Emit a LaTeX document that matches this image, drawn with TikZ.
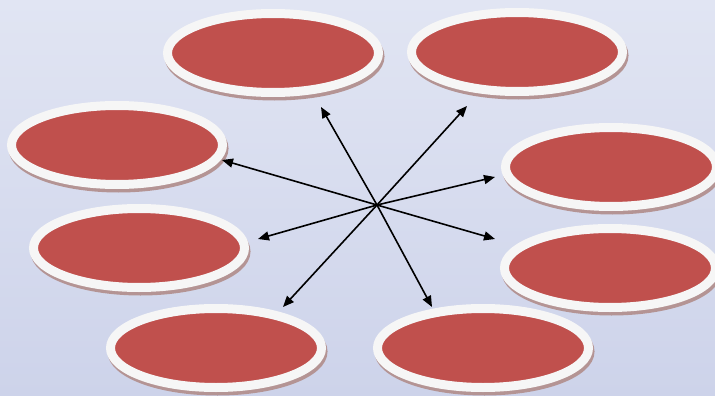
\documentclass[tikz,border=0pt]{standalone}
\usetikzlibrary{shapes.geometric,arrows.meta}
\definecolor{bgtop}{HTML}{E1E5F3}
\definecolor{bgbottom}{HTML}{CDD3EA}
\definecolor{discred}{HTML}{C0504D}
\definecolor{discrim}{HTML}{F6F6F6}
\definecolor{discshade}{HTML}{B49494}
\tikzset{
  disc/.style={ellipse, inner sep=0pt, minimum width=211pt, minimum height=79pt,
    fill=discred, draw=discrim, line width=9pt,
    preaction={draw=discshade, fill=discshade, line width=9pt,
      transform canvas={xshift=1.5pt, yshift=-3.5pt}}},
  spoke/.style={line width=1.6pt, draw=black, -{Triangle[length=11pt,width=9pt]}}
}
\begin{document}
\begin{tikzpicture}[x=1pt, y=-1pt]
  % backdrop
  \shade[top color=bgtop, bottom color=bgbottom] (0,0) rectangle (715,396);
  \useasboundingbox (0,0) rectangle (715,396);

  % discs
  \node[disc] (e1) at (273,53) {};
  \node[disc] (e2) at (517,52) {};
  \node[disc] (e3) at (117,145) {};
  \node[disc] (e4) at (611,167) {};
  \node[disc] (e5) at (139,248) {};
  \node[disc] (e6) at (610,268) {};
  \node[disc] (e7) at (216,348) {};
  \node[disc] (e8) at (483,348) {};

  % hub and arrow tips
  \coordinate (hub) at (377,205);
  \coordinate (t1) at (321,107);
  \coordinate (t2) at (467,106);
  \coordinate (t3) at (495,177);
  \coordinate (t4) at (495,239);
  \coordinate (t5) at (432,307);
  \coordinate (t6) at (283,307);
  \coordinate (t7) at (258,239);
  \coordinate (t8) at (222,160);

  \foreach \t in {t1,t2,t3,t4,t5,t6,t7,t8}
    \draw[spoke] (hub) -- (\t);
\end{tikzpicture}
\end{document}
